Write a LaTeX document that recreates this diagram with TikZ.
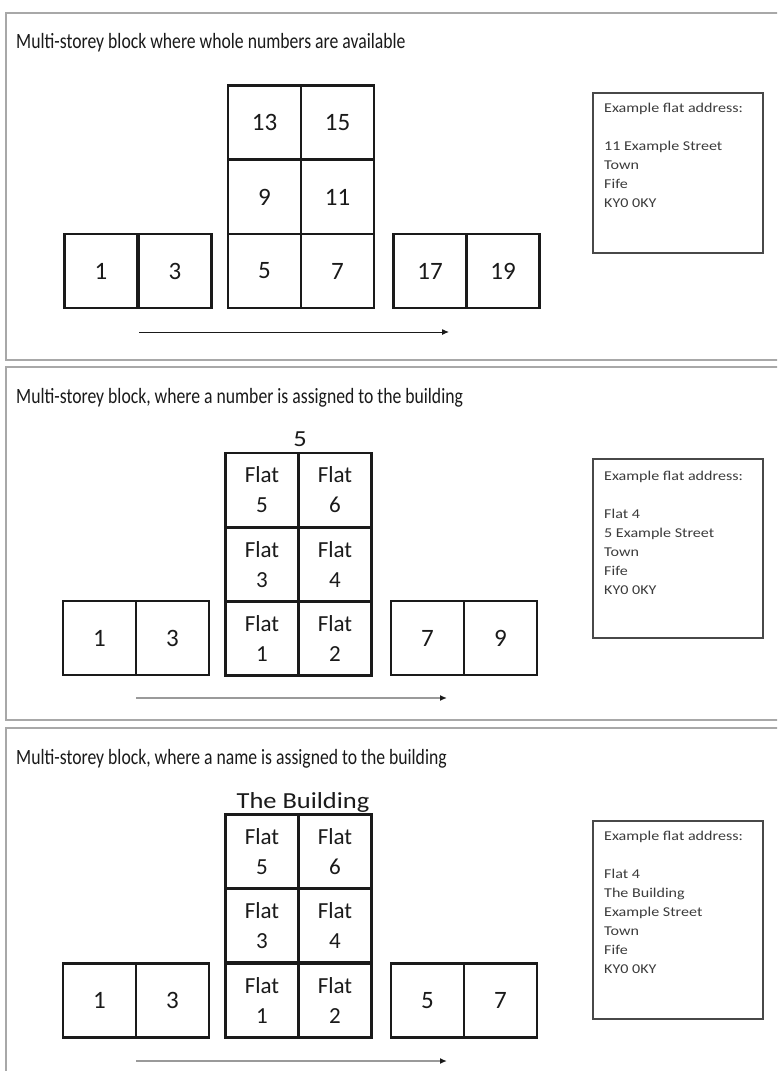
\documentclass[tikz,border=0pt]{standalone}
\usepackage{fontspec}
\setmainfont{Carlito}
\newfontfamily\titlefont[FakeStretch=0.81]{Carlito}
\newfontfamily\labelfont[FakeStretch=1.15]{Carlito}
\newfontfamily\addrfont[FakeStretch=1.19]{Carlito}
\usetikzlibrary{arrows.meta}
\definecolor{ink}{HTML}{1A1A1A}
\definecolor{frame}{HTML}{A8A8A8}
\definecolor{arrowgray}{HTML}{9A9A9A}
\tikzset{
  cell/.style={draw=ink, line width=2.4pt, minimum width=73pt, minimum height=74pt, inner sep=0pt,
    font=\fontsize{25}{28}\selectfont, text=ink},
  flatcell/.style={cell, align=center, font=\fontsize{23}{30}\selectfont},
  title/.style={anchor=base west, inner sep=0pt, font=\titlefont\fontsize{21.8}{24}\selectfont, text=ink},
  blabel/.style={anchor=base, inner sep=0pt, font=\labelfont\fontsize{23}{26}\selectfont, text=ink},
  addrbox/.style={draw=ink!80, line width=1.6pt},
  addrtext/.style={anchor=north west, inner sep=0pt, align=left, font=\addrfont\fontsize{13.5}{19}\selectfont, text=ink!85},
  panel/.style={draw=frame, line width=2.8pt},
  streetarrow/.style={draw=ink, line width=1pt, -{Latex[length=7pt,width=6pt]}},
  streetarrowgray/.style={draw=arrowgray, line width=2.2pt, -{Latex[length=7pt,width=6pt,fill=ink,color=ink]}}
}
\begin{document}
\begin{tikzpicture}[x=1pt,y=-1pt]
\useasboundingbox (0,0) rectangle (777,1071);
\clip (0,0) rectangle (777,1071);
\fill[white] (0,0) rectangle (777,1071);

% ---------------- Panel 1 ----------------
\draw[panel] (6,13) rectangle (800,360);
\node[title] (t1) at (16,48) {Multi-storey block where whole numbers are available};
\node[cell] (a1) at (101,271) {1};
\node[cell] (a3) at (175,271) {3};
\node[cell] (a13) at (264.5,122.5) {13};
\node[cell] (a15) at (337.5,122.5) {15};
\node[cell] (a9) at (264.5,197) {9};
\node[cell] (a11) at (337.5,197) {11};
\node[cell] (a5) at (264.5,271) {5};
\node[cell] (a7) at (337.5,271) {7};
\node[cell] (a17) at (430,271) {17};
\node[cell] (a19) at (503,271) {19};
\coordinate (s1) at (139,332);
\coordinate (e1) at (449,332);
\draw[streetarrow] (s1) -- (e1);
\draw[addrbox] (593,93) rectangle (763,253);
\node[addrtext] (ad1) at (604,103) {Example flat address:\\[19pt]11 Example Street\\Town\\Fife\\KY0 0KY};

% ---------------- Panel 2 ----------------
\draw[panel] (6,367) rectangle (800,720);
\node[title] (t2) at (16,403) {Multi-storey block, where a number is assigned to the building};
\node[blabel] (b2) at (300,446) {5};
\node[cell] (c1) at (99.5,638) {1};
\node[cell] (c3) at (172.5,638) {3};
\node[flatcell] (f5) at (262,490) {Flat\\5};
\node[flatcell] (f6) at (335,490) {Flat\\6};
\node[flatcell] (f3) at (262,564.5) {Flat\\3};
\node[flatcell] (f4) at (335,564.5) {Flat\\4};
\node[flatcell] (f1) at (262,638.5) {Flat\\1};
\node[flatcell] (f2) at (335,638.5) {Flat\\2};
\node[cell] (c7) at (427.5,638) {7};
\node[cell] (c9) at (500.5,638) {9};
\coordinate (s2) at (136,698);
\coordinate (e2) at (447,698);
\draw[streetarrowgray] (s2) -- (e2);
\draw[addrbox] (593,459) rectangle (763,638);
\node[addrtext] (ad2) at (604,471) {Example flat address:\\[19pt]Flat 4\\5 Example Street\\Town\\Fife\\KY0 0KY};

% ---------------- Panel 3 ----------------
\draw[panel] (6,728) rectangle (800,1100);
\node[title] (t3) at (16,764) {Multi-storey block, where a name is assigned to the building};
\node[blabel] (b3) at (303,808) {The Building};
\node[cell] (d1) at (99.5,1000.5) {1};
\node[cell] (d3) at (172.5,1000.5) {3};
\node[flatcell] (g5) at (262,851.5) {Flat\\5};
\node[flatcell] (g6) at (335,851.5) {Flat\\6};
\node[flatcell] (g3) at (262,925.5) {Flat\\3};
\node[flatcell] (g4) at (335,925.5) {Flat\\4};
\node[flatcell] (g1) at (262,1000.5) {Flat\\1};
\node[flatcell] (g2) at (335,1000.5) {Flat\\2};
\node[cell] (d5) at (427.5,1000.5) {5};
\node[cell] (d7) at (500.5,1000.5) {7};
\coordinate (s3) at (136,1061);
\coordinate (e3) at (447,1061);
\draw[streetarrowgray] (s3) -- (e3);
\draw[addrbox] (593,821) rectangle (763,1019);
\node[addrtext] (ad3) at (604,831) {Example flat address:\\[19pt]Flat 4\\The Building\\Example Street\\Town\\Fife\\KY0 0KY};
\end{tikzpicture}
\end{document}
